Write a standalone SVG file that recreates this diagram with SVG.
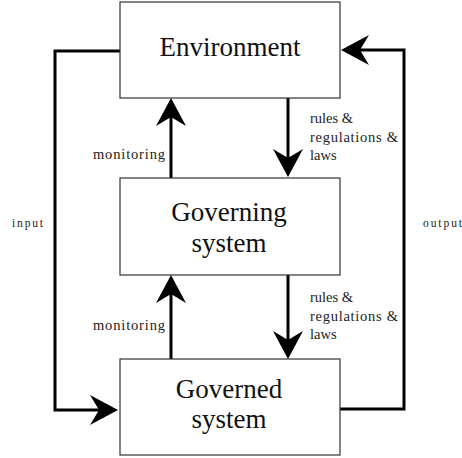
<svg xmlns="http://www.w3.org/2000/svg" width="462" height="458" viewBox="0 0 462 458">
<style>
.box{fill:#fff;stroke:#333;stroke-width:1.2}
.title{font-size:27px;fill:#111;text-anchor:middle}
.lbl{font-size:14.5px;fill:#222}
.sm{font-size:11.5px;fill:#222}
.conn{fill:none;stroke:#000;stroke-width:3}
</style>
<defs>
<marker id="ah" markerUnits="userSpaceOnUse" viewBox="0 0 28 30" markerWidth="28" markerHeight="30" refX="12" refY="15" orient="auto">
<path d="M0,0 L28,15 L0,30 L9,15 Z" fill="#000"/>
</marker>
</defs>
<rect width="462" height="458" fill="#fff"/>
<g id="connectors" font-family="Liberation Serif, DejaVu Serif, serif">
<path class="conn" d="M120,51 H55 V410 H102" marker-end="url(#ah)"/>
<path class="conn" d="M340,409 H404 V50 H357" marker-end="url(#ah)"/>
<path class="conn" d="M171,178 V114" marker-end="url(#ah)"/>
<path class="conn" d="M288,98 V161" marker-end="url(#ah)"/>
<path class="conn" d="M171,359 V291" marker-end="url(#ah)"/>
<path class="conn" d="M288,275 V343" marker-end="url(#ah)"/>
<text class="lbl" x="93" y="159" textLength="72">monitoring</text>
<text class="lbl" x="93" y="330" textLength="72">monitoring</text>
<text class="lbl" x="310" y="123">rules &amp;</text>
<text class="lbl" x="310" y="141.5" textLength="88">regulations &amp;</text>
<text class="lbl" x="310" y="160">laws</text>
<text class="lbl" x="310" y="302">rules &amp;</text>
<text class="lbl" x="310" y="320.5" textLength="88">regulations &amp;</text>
<text class="lbl" x="310" y="339">laws</text>
<text class="sm" x="12" y="227" textLength="31">input</text>
<text class="sm" x="423" y="227" textLength="39">output</text>
</g>
<g id="environment" font-family="Liberation Serif, DejaVu Serif, serif">
<rect class="box" x="120" y="2" width="220" height="96"/>
<text class="title" x="230" y="56">Environment</text>
</g>
<g id="governing" font-family="Liberation Serif, DejaVu Serif, serif">
<rect class="box" x="120" y="178" width="220" height="97"/>
<text class="title" x="229" y="221">Governing</text>
<text class="title" x="229" y="252">system</text>
</g>
<g id="governed" font-family="Liberation Serif, DejaVu Serif, serif">
<rect class="box" x="120" y="359" width="220" height="96"/>
<text class="title" x="229" y="398">Governed</text>
<text class="title" x="229" y="428">system</text>
</g>
</svg>
